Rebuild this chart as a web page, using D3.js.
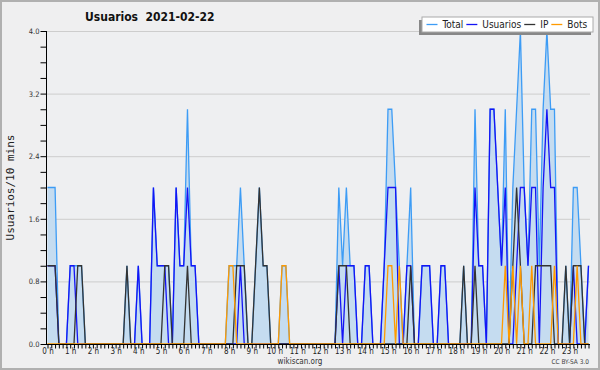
<!DOCTYPE html>
<html>
<head>
<meta charset="utf-8">
<script src="https://cdn.jsdelivr.net/npm/d3@7"></script>
<style>
body { margin: 0; background: #efeff0; }
svg { display: block; }
</style>
</head>
<body>
<svg id="chart"></svg>
<script>
const WIDTH = 600;
const HEIGHT = 370;

// values per 10 minutes, 144 slots (one line = 4 hours)
const total = [
	2,2,2,0,0,0, 1,1,1,1,0,0, 0,0,0,0,0,0, 0,0,0,1,0,0,
	1,0,0,0,2,1, 1,1,1,0,2,1, 1,3,1,1,0,0, 0,0,0,0,0,0,
	1,1,1,2,1,0, 0,1,2,1,1,0, 0,0,1,1,0,0, 0,0,0,0,0,0,
	0,0,0,0,0,2, 1,2,1,1,0,0, 1,1,0,0,0,1, 3,3,2,1,0,1,
	2,0,0,1,1,1, 0,0,1,1,0,0, 0,0,1,0,0,3, 1,1,0,3,3,2,
	1,3,0,2,3,4, 2,1,3,3,1,3, 4,3,3,0,0,1, 0,2,2,1,0,1
];
const usuarios = [
	1,1,1,0,0,0, 1,1,0,0,0,0, 0,0,0,0,0,0, 0,0,0,0,0,0,
	1,0,0,0,2,1, 1,1,0,0,2,1, 1,2,1,1,0,0, 0,0,0,0,0,0,
	0,0,0,1,0,0, 0,0,0,0,0,0, 0,0,0,0,0,0, 0,0,0,0,0,0,
	0,0,0,0,0,1, 0,1,1,1,0,0, 1,1,0,0,0,1, 2,2,2,0,0,1,
	1,0,0,1,1,1, 0,0,1,1,0,0, 0,0,0,0,0,2, 1,1,0,3,3,2,
	1,2,0,0,1,2, 2,1,2,2,0,2, 3,2,2,0,0,0, 0,1,0,0,0,1
];
const ip = [
	1,1,1,0,0,0, 0,0,1,1,0,0, 0,0,0,0,0,0, 0,0,0,1,0,0,
	0,0,0,0,0,0, 0,1,1,0,0,0, 0,1,0,0,0,0, 0,0,0,0,0,0,
	0,0,1,1,1,0, 0,1,2,1,1,0, 0,0,0,0,0,0, 0,0,0,0,0,0,
	0,0,0,0,0,1, 1,1,0,0,0,0, 0,0,0,0,0,0, 0,0,0,0,0,0,
	1,0,0,0,0,0, 0,0,0,0,0,0, 0,0,1,0,0,1, 0,0,0,0,0,0,
	0,0,0,1,2,1, 0,0,0,1,1,1, 1,1,0,0,0,1, 0,1,1,1,0,0
];
const bots = [
	0,0,0,0,0,0, 0,0,0,0,0,0, 0,0,0,0,0,0, 0,0,0,0,0,0,
	0,0,0,0,0,0, 0,0,0,0,0,0, 0,0,0,0,0,0, 0,0,0,0,0,0,
	1,1,0,0,0,0, 0,0,0,0,0,0, 0,0,1,1,0,0, 0,0,0,0,0,0,
	0,0,0,0,0,0, 0,0,0,0,0,0, 0,0,0,0,0,0, 1,1,0,1,0,0,
	0,0,0,0,0,0, 0,0,0,0,0,0, 0,0,0,0,0,0, 0,0,0,0,0,0,
	0,1,0,1,0,1, 0,0,1,0,0,0, 0,0,1,0,0,0, 0,0,1,0,0,0
];

const seriesNames = ["Total", "Usuarios", "IP", "Bots"];
const seriesColors = ["#3d9cf5", "#1414f5", "#333333", "#ff9a00"];
const yTicks = [0, 0.8, 1.6, 2.4, 3.2, 4.0];
const hourLabels = ["0 h","1 h","2 h","3 h","4 h","5 h","6 h","7 h","8 h","9 h","10 h","11 h",
	"12 h","13 h","14 h","15 h","16 h","17 h","18 h","19 h","20 h","21 h","22 h","23 h"];

const COND = "'DejaVu Sans Condensed', 'DejaVu Sans', sans-serif";

const svg = d3.select("#chart").attr("width", WIDTH).attr("height", HEIGHT);

svg.append("rect")
	.attr("x", 1).attr("y", 1)
	.attr("width", WIDTH - 2).attr("height", HEIGHT - 2)
	.attr("fill", "#efeff0")
	.attr("stroke", "#b0b0b0")
	.attr("stroke-width", 2);

const X0 = 46, X1 = 590, Y0 = 344, Y1 = 31;
const x = d3.scaleLinear([0, total.length - 1], [47.5, 588.5]);
const y = d3.scaleLinear([0, 4], [Y0, Y1]);

svg.append("rect")
	.attr("x", X0).attr("y", Y1)
	.attr("width", X1 - X0).attr("height", Y0 - Y1)
	.attr("fill", "#eeeff1");

// grid
svg.append("g")
	.selectAll("line")
	.data(yTicks.slice(1))
	.join("line")
	.attr("x1", X0).attr("x2", X1)
	.attr("y1", d => y(d) + 0.5).attr("y2", d => y(d) + 0.5)
	.attr("stroke", "#cdcdcd");

// title
svg.append("text")
	.attr("x", 85).attr("y", 21)
	.style("white-space", "pre")
	.attr("font-family", COND)
	.attr("font-weight", "bold")
	.attr("font-size", 12)
	.attr("fill", "#111")
	.text("Usuarios  2021-02-22");

// y title
svg.append("text")
	.attr("transform", `translate(14,${(Y0 + Y1) / 2}) rotate(-90)`)
	.attr("text-anchor", "middle")
	.attr("font-family", "'DejaVu Sans Mono', monospace")
	.attr("font-size", 11)
	.attr("fill", "#222")
	.text("Usuarios/10 mins");

// series
const area = d3.area()
	.x((d, i) => x(i))
	.y0(y(0))
	.y1(d => y(d));
const line = d3.line()
	.x((d, i) => x(i))
	.y(d => y(d));

svg.append("path")
	.datum(total)
	.attr("d", area)
	.attr("fill", "#c5dcf0");

[total, usuarios, ip, bots].forEach((vals, k) => {
	svg.append("path")
		.datum(vals)
		.attr("d", line)
		.attr("fill", "none")
		.attr("stroke", seriesColors[k])
		.attr("stroke-width", 1.3)
		.attr("stroke-linejoin", "miter");
});

// axes
const yAxis = d3.axisLeft(y)
	.tickValues(d3.range(0, 21).map(i => i * 0.2))
	.tickSize(6)
	.tickPadding(1)
	.tickFormat(d => (Math.round(d * 10) % 8 === 0 ? d3.format(".1f")(d) : ""));
svg.append("g")
	.attr("transform", `translate(${X0 + 0.5},0)`)
	.call(yAxis)
	.call(g => g.select(".domain").attr("d", `M0,${Y1}V${Y0}`).attr("stroke", "#000"))
	.call(g => g.selectAll("text").attr("font-family", COND).attr("font-size", 7.5).attr("fill", "#333"));

const xAxis = d3.axisBottom(x)
	.tickValues(d3.range(0, total.length))
	.tickSize(4)
	.tickPadding(0)
	.tickFormat(i => (i % 6 === 0 ? hourLabels[i / 6] : ""));
svg.append("g")
	.attr("transform", `translate(0,${Y0 + 0.5})`)
	.call(xAxis)
	.call(g => g.select(".domain").attr("d", `M${X0},0H${X1}`).attr("stroke", "#000"))
	.call(g => g.selectAll("text").attr("font-family", COND).attr("font-size", 8).attr("fill", "#222"));

// credits
svg.append("text")
	.attr("x", 300).attr("y", 364)
	.attr("text-anchor", "middle")
	.attr("font-family", COND)
	.attr("font-size", 8)
	.attr("fill", "#333")
	.text("wikiscan.org");
svg.append("text")
	.attr("x", 589).attr("y", 364)
	.attr("text-anchor", "end")
	.attr("font-family", COND)
	.attr("font-size", 6.5)
	.attr("fill", "#444")
	.text("CC BY-SA 3.0");

// legend
const legend = svg.append("g");
legend.append("rect")
	.attr("x", 419).attr("y", 20)
	.attr("width", 172).attr("height", 15)
	.attr("fill", "#888");
legend.append("rect")
	.attr("x", 422).attr("y", 17)
	.attr("width", 171).attr("height", 15)
	.attr("fill", "#fff")
	.attr("stroke", "#aaa");
let lx = 426.5;
seriesNames.forEach((name, k) => {
	legend.append("line")
		.attr("x1", lx).attr("x2", lx + 11)
		.attr("y1", 24.5).attr("y2", 24.5)
		.attr("stroke", seriesColors[k])
		.attr("stroke-width", 1.3);
	const t = legend.append("text")
		.attr("x", lx + 16).attr("y", 28)
		.attr("font-family", COND)
		.attr("font-size", 10)
		.attr("fill", "#222")
		.text(name);
	lx += 16 + t.node().getComputedTextLength() + 3;
});
</script>
</body>
</html>
